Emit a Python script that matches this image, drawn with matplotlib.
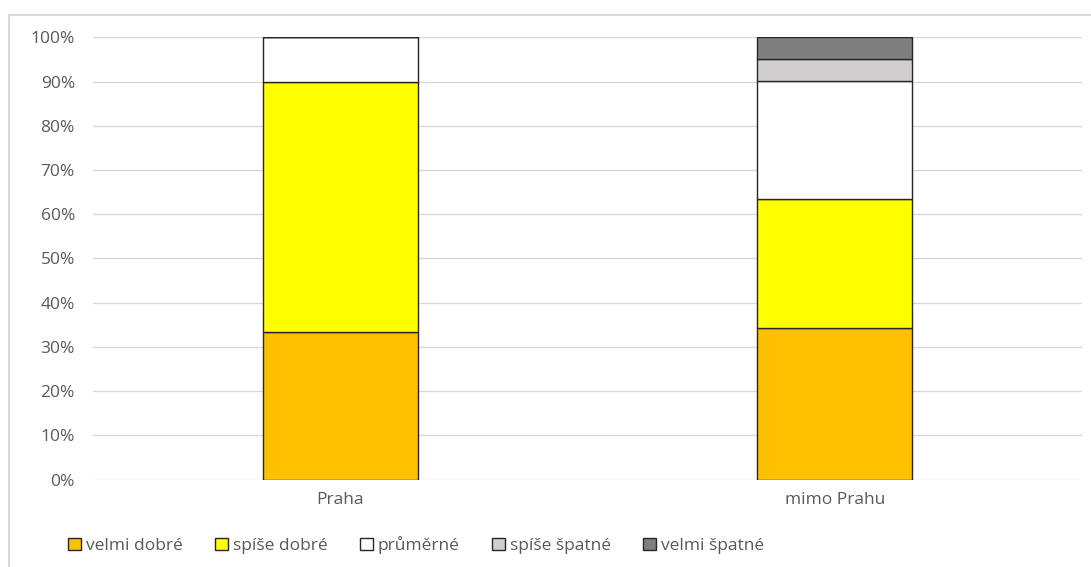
import numpy as np
import matplotlib.pyplot as plt
from matplotlib.lines import Line2D

plt.rcParams['font.family'] = ['Open Sans', 'DejaVu Sans']

categories = ['Praha', 'mimo Prahu']
series_names = ['velmi dobré', 'spíše dobré', 'průměrné', 'spíše špatné', 'velmi špatné']
velmi_dobre = [33.3, 34.2]
spise_dobre = [56.5, 29.2]
prumerne = [10.2, 26.8]
spise_spatne = [0.0, 4.8]
velmi_spatne = [0.0, 5.0]
colors = ['#FFC000', '#FFFF00', '#FFFFFF', '#D0CECE', '#7F7F7F']
yticks = np.arange(0, 101, 10)

series = [velmi_dobre, spise_dobre, prumerne, spise_spatne, velmi_spatne]

fig = plt.figure(figsize=(10.91, 5.67), dpi=100)
ax = fig.add_axes([93 / 1091, 1 - 479.5 / 567, 989 / 1091, (479.5 - 37.3) / 567])

x = np.arange(len(categories))
bottom = np.zeros(len(categories))
for name, vals, col in zip(series_names, series, colors):
    vals = np.array(vals)
    ax.bar(x, vals, 0.313, bottom=bottom, color=col, edgecolor='#262626',
           linewidth=1.0, label=name, zorder=3)
    bottom += vals

ax.set_xlim(-0.5, 1.5)
ax.set_ylim(0, 100)
ax.set_yticks(yticks)
ax.set_yticklabels([f'{v}%' for v in yticks])
ax.set_xticks(x)
ax.set_xticklabels(categories)
ax.grid(axis='y', color='#D9D9D9', linewidth=1.0, zorder=0)
for s in ax.spines.values():
    s.set_visible(False)
ax.tick_params(axis='both', length=0, colors='#595959', labelsize=12.5)
ax.tick_params(axis='y', pad=13)
ax.tick_params(axis='x', pad=9)

handles, labels = ax.get_legend_handles_labels()
leg = fig.legend(handles, labels, loc='center', bbox_to_anchor=(416 / 1091, 1 - 545 / 567),
                 ncol=5, frameon=False, fontsize=12.5, handlelength=0.75, handleheight=0.75,
                 handletextpad=0.3, columnspacing=1.85, labelcolor='#595959')

# chart border
fig.add_artist(Line2D([9 / 1091, 9 / 1091], [0, 1 - 15 / 567], transform=fig.transFigure,
                      color='#D9D9D9', linewidth=1.5))
fig.add_artist(Line2D([9 / 1091, 1], [1 - 15 / 567, 1 - 15 / 567], transform=fig.transFigure,
                      color='#D9D9D9', linewidth=1.5))

fig.savefig('out.png', dpi=100)
